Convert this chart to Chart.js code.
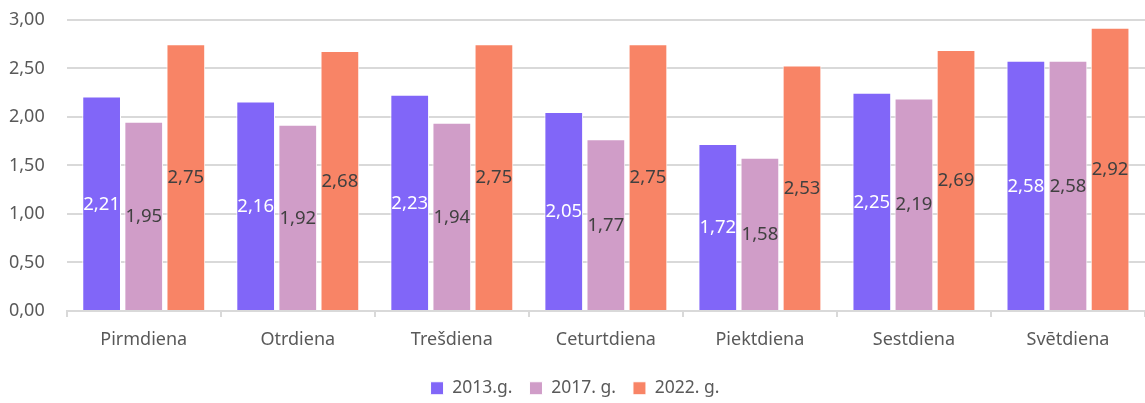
<!DOCTYPE html>
<html>
<head>
<meta charset="utf-8">
<script src="https://cdn.jsdelivr.net/npm/chart.js@4/dist/chart.umd.min.js"></script>
<style>
  html, body { margin: 0; padding: 0; background: #fff; }
  #wrap { width: 1145px; height: 403px; }
</style>
</head>
<body>
<div id="wrap"><canvas id="chart"></canvas></div>
<script>
const days = ['Pirmdiena', 'Otrdiena', 'Trešdiena', 'Ceturtdiena', 'Piektdiena', 'Sestdiena', 'Svētdiena'];
const series2013 = [2.21, 2.16, 2.23, 2.05, 1.72, 2.25, 2.58];
const series2017 = [1.95, 1.92, 1.94, 1.77, 1.58, 2.19, 2.58];
const series2022 = [2.75, 2.68, 2.75, 2.75, 2.53, 2.69, 2.92];
const seriesNames = ['2013.g.', '2017. g.', '2022. g.'];
const seriesColors = ['#8166F8', '#D09DC8', '#F88466'];
const labelColors = ['#ffffff', '#404040', '#404040'];

const FONT = '"Noto Sans", sans-serif';
const fmt = v => v.toFixed(2).replace('.', ',');

// draws the value in the middle of every bar
const barLabels = {
    id: 'barLabels',
    afterDatasetsDraw(chart) {
        const ctx = chart.ctx;
        ctx.save();
        ctx.font = '18.5px ' + FONT;
        ctx.textAlign = 'center';
        ctx.textBaseline = 'middle';
        chart.data.datasets.forEach((ds, i) => {
            chart.getDatasetMeta(i).data.forEach((bar, j) => {
                const mid = (bar.y + bar.base) / 2;
                ctx.fillStyle = labelColors[i];
                ctx.fillText(fmt(ds.data[j]), bar.x, mid + 1);
            });
        });
        ctx.restore();
    }
};

new Chart(document.getElementById('chart'), {
    type: 'bar',
    data: {
        labels: days,
        datasets: [series2013, series2017, series2022].map((d, i) => ({
            label: seriesNames[i],
            data: d,
            backgroundColor: seriesColors[i],
            borderColor: '#ffffff',
            borderWidth: 1,
            barPercentage: 0.92,
            categoryPercentage: 0.82
        }))
    },
    options: {
        responsive: true,
        maintainAspectRatio: false,
        animation: false,
        layout: { padding: { top: 20, right: 0, left: 5, bottom: -4 } },
        plugins: {
            legend: {
                position: 'bottom',
                labels: {
                    boxWidth: 13,
                    boxHeight: 13,
                    padding: 17,
                    color: '#595959',
                    font: { family: FONT, size: 17.5 }
                }
            },
            tooltip: { enabled: false }
        },
        scales: {
            x: {
                grid: { display: true, offset: true, drawOnChartArea: false, color: '#d9d9d9', tickLength: 6, lineWidth: 2 },
                border: { color: '#d9d9d9', width: 2 },
                ticks: { color: '#595959', font: { family: FONT, size: 18 }, padding: 12 }
            },
            y: {
                min: 0,
                max: 3,
                ticks: {
                    stepSize: 0.5,
                    color: '#595959',
                    font: { family: FONT, size: 18 },
                    padding: 4,
                    callback: v => fmt(v)
                },
                grid: { color: '#d9d9d9', lineWidth: 2, drawTicks: true, tickLength: 18, tickColor: 'rgba(0,0,0,0)' },
                border: { display: false }
            }
        }
    },
    plugins: [barLabels]
});
</script>
</body>
</html>
